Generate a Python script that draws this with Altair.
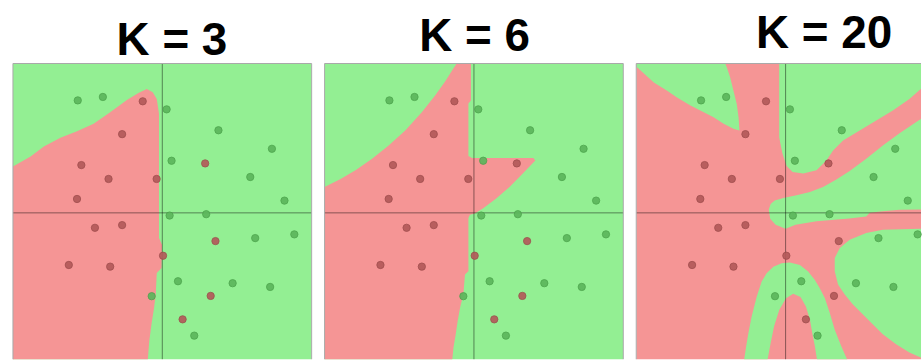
import altair as alt
import pandas as pd

# Training points in feature space (same sample in every panel)
GREEN_X = [-0.566, -0.398, 0.029, 0.376, 0.734, 0.062, 0.589, 0.818, 0.049,
           0.294, 0.622, 0.884, 0.105, 0.471, 0.722, -0.071, 0.214]
GREEN_Y = [0.753, 0.776, 0.693, 0.553, 0.429, 0.349, 0.240, 0.082, -0.018,
           -0.009, -0.169, -0.144, -0.458, -0.471, -0.496, -0.558, -0.822]
RED_X = [-0.131, -0.269, -0.542, -0.360, -0.038, 0.287, -0.571, -0.451,
         -0.269, 0.356, 0.005, -0.626, -0.349, 0.324, 0.136]
RED_Y = [0.747, 0.527, 0.320, 0.227, 0.227, 0.331, 0.093, -0.100,
         -0.082, -0.189, -0.287, -0.349, -0.360, -0.556, -0.713]

# Feature-space limits of each panel
XLIM = [-1.0, 1.0]
YLIM = [-1.0, 1.0]

# Decision-region outlines (x, y) for each model order K
K3_RED = [(-1.000, 0.311), (-0.882, 0.378), (-0.793, 0.445), (-0.682, 0.503),
          (-0.571, 0.547), (-0.460, 0.596), (-0.349, 0.673), (-0.237, 0.756),
          (-0.160, 0.803), (-0.104, 0.829), (-0.064, 0.807), (-0.037, 0.763),
          (-0.022, 0.663), (-0.022, -0.169), (-0.002, -0.213), (-0.005, -0.369),
          (-0.037, -0.402), (-0.044, -0.547), (-0.055, -0.635), (-0.071, -0.735),
          (-0.087, -0.857), (-0.097, -0.982), (-0.100, -1.000), (-1.000, -1.000)]

K6_RED = [(-1.000, 0.173), (-0.893, 0.227), (-0.793, 0.285), (-0.682, 0.363),
          (-0.571, 0.451), (-0.460, 0.551), (-0.349, 0.673), (-0.260, 0.785),
          (-0.193, 0.880), (-0.140, 0.963), (-0.115, 1.000), (-0.020, 1.000),
          (-0.020, 0.753), (-0.037, 0.733), (-0.037, 0.380), (-0.013, 0.367),
          (0.398, 0.367), (0.411, 0.351), (0.327, 0.263), (0.238, 0.173),
          (0.149, 0.096), (0.060, 0.029), (0.005, -0.004), (-0.027, -0.013),
          (-0.037, -0.035), (-0.037, -0.391), (-0.060, -0.413), (-0.071, -0.547),
          (-0.093, -0.635), (-0.109, -0.724), (-0.122, -0.813), (-0.137, -0.902),
          (-0.147, -1.000), (-1.000, -1.000)]

K20_GREEN_TOPLEFT = [(-1.000, 1.000), (-0.404, 1.000), (-0.393, 0.973), (-0.371, 0.907),
                     (-0.349, 0.818), (-0.327, 0.729), (-0.315, 0.640), (-0.309, 0.551),
                     (-0.349, 0.563), (-0.415, 0.596), (-0.482, 0.640), (-0.571, 0.685),
                     (-0.637, 0.718), (-0.727, 0.773), (-0.793, 0.818), (-0.882, 0.873),
                     (-0.993, 0.973), (-1.000, 0.973)]

K20_GREEN_TOPRIGHT = [(-0.043, 1.000), (-0.043, 0.507), (-0.022, 0.400), (0.007, 0.313),
                      (0.047, 0.273), (0.118, 0.263), (0.207, 0.285), (0.273, 0.351),
                      (0.318, 0.418), (0.385, 0.485), (0.496, 0.551), (0.607, 0.618),
                      (0.718, 0.685), (0.829, 0.763), (0.905, 0.829), (1.000, 0.893),
                      (1.000, 1.000)]

K20_GREEN_MIDDLE = [(-0.113, 0.020), (-0.100, 0.060), (-0.073, 0.083), (-0.015, 0.100),
                    (0.073, 0.118), (0.163, 0.140), (0.251, 0.173), (0.340, 0.223),
                    (0.429, 0.280), (0.540, 0.363), (0.651, 0.451), (0.763, 0.533),
                    (0.905, 0.629), (1.000, 0.693), (1.000, 0.027), (0.905, 0.023),
                    (0.763, 0.020), (0.651, 0.010), (0.563, 0.000), (0.540, -0.024),
                    (0.427, -0.037), (0.207, -0.057), (0.067, -0.080), (0.000, -0.107),
                    (-0.067, -0.080), (-0.103, -0.040)]

K20_GREEN_LOWRIGHT = [(1.000, -0.100), (0.905, -0.107), (0.651, -0.113), (0.540, -0.135),
                      (0.429, -0.180), (0.363, -0.235), (0.329, -0.302), (0.329, -0.391),
                      (0.351, -0.480), (0.396, -0.547), (0.451, -0.613), (0.518, -0.680),
                      (0.585, -0.747), (0.651, -0.813), (0.740, -0.880), (0.829, -0.935),
                      (0.905, -0.969), (1.000, -0.987)]

K20_GREEN_ARCH = [(-0.280, -1.000), (-0.264, -0.893), (-0.249, -0.804), (-0.227, -0.693),
                  (-0.193, -0.560), (-0.160, -0.460), (-0.127, -0.404), (-0.082, -0.360),
                  (-0.027, -0.337), (0.029, -0.333), (0.096, -0.349), (0.151, -0.393),
                  (0.196, -0.449), (0.229, -0.504), (0.263, -0.571), (0.296, -0.671),
                  (0.329, -0.782), (0.373, -0.893), (0.420, -1.000),
                  (0.213, -1.000), (0.196, -0.893), (0.180, -0.815), (0.163, -0.715),
                  (0.136, -0.627), (0.100, -0.564), (0.051, -0.542), (0.003, -0.571),
                  (-0.042, -0.649), (-0.077, -0.760), (-0.100, -0.871), (-0.124, -1.000)]

CLASSES = ["red", "green"]
REGION_COLORS = ["#f59595", "#93ef93"]
POINT_COLORS = ["#b35a5a", "#5cb65c"]
POINT_EDGES = ["#9a4848", "#48a048"]
FONT = "Liberation Sans"

PLOT_H = 297
Y_LOW = YLIM[1] - PLOT_H / 150.0

# (title, background class, regions, plot width, title x, title baseline)
PANELS = [
    ("K = 3", "green", [("red", K3_RED)], 300, 159.7, -8.7),
    ("K = 6", "green", [("red", K6_RED)], 300, 150.7, -12.7),
    ("K = 20", "red", [("green", K20_GREEN_TOPLEFT), ("green", K20_GREEN_TOPRIGHT),
                       ("green", K20_GREEN_MIDDLE), ("green", K20_GREEN_LOWRIGHT),
                       ("green", K20_GREEN_ARCH)], 286, 188.7, -16.0),
]

points_df = pd.DataFrame({
    "x": GREEN_X + RED_X,
    "y": GREEN_Y + RED_Y,
    "label": ["green"] * len(GREEN_X) + ["red"] * len(RED_X),
})


def make_panel(title, base_cls, regions, width, title_x, title_y):
    x_max = XLIM[0] + width / 150.0
    xs = alt.Scale(domain=[XLIM[0], x_max], nice=False, zero=False)
    ys = alt.Scale(domain=[Y_LOW, YLIM[1]], nice=False, zero=False)
    region_color = alt.Color("cls:N", scale=alt.Scale(domain=CLASSES, range=REGION_COLORS),
                             legend=None)

    background = alt.Chart(pd.DataFrame({
        "x0": [XLIM[0]], "x1": [XLIM[1]], "y0": [YLIM[0]], "y1": [YLIM[1]], "cls": [base_cls],
    })).mark_rect(clip=True).encode(
        x=alt.X("x0:Q", scale=xs, axis=None), x2="x1:Q",
        y=alt.Y("y0:Q", scale=ys, axis=None), y2="y1:Q",
        color=region_color,
    )

    rows = []
    for rid, (cls, verts) in enumerate(regions):
        for i, (vx, vy) in enumerate(verts):
            rows.append({"rid": rid, "i": i, "x": vx, "y": vy, "cls": cls})
    shapes = alt.Chart(pd.DataFrame(rows)).mark_line(
        filled=True, clip=True, strokeWidth=0
    ).encode(
        x=alt.X("x:Q", scale=xs, axis=None),
        y=alt.Y("y:Q", scale=ys, axis=None),
        color=region_color,
        detail="rid:N",
        order="i:Q",
    )

    axes_df = pd.DataFrame({"x": [0.0], "y": [0.0]})
    cross_v = alt.Chart(axes_df).mark_rule(color="black", opacity=0.45, strokeWidth=1).encode(
        x=alt.X("x:Q", scale=xs, axis=None))
    cross_h = alt.Chart(axes_df).mark_rule(color="black", opacity=0.45, strokeWidth=1).encode(
        y=alt.Y("y:Q", scale=ys, axis=None))

    edges = [("y", YLIM[1]), ("x", XLIM[0])]
    if XLIM[1] <= x_max + 1e-9:
        edges.append(("x", XLIM[1]))
    frame = []
    for ch, val in edges:
        df = pd.DataFrame({ch: [val]})
        enc = ({"x": alt.X("x:Q", scale=xs, axis=None)} if ch == "x"
               else {"y": alt.Y("y:Q", scale=ys, axis=None)})
        frame.append(alt.Chart(df).mark_rule(color="#a8a8a8", strokeWidth=1).encode(**enc))

    pts = alt.Chart(points_df).mark_circle(size=54, opacity=0.92, strokeWidth=0.8).encode(
        x=alt.X("x:Q", scale=xs, axis=None),
        y=alt.Y("y:Q", scale=ys, axis=None),
        fill=alt.Fill("label:N", scale=alt.Scale(domain=CLASSES, range=POINT_COLORS),
                      legend=None),
        stroke=alt.Stroke("label:N", scale=alt.Scale(domain=CLASSES, range=POINT_EDGES),
                          legend=None),
    )

    heading = alt.Chart(pd.DataFrame({"t": [title]})).mark_text(
        font=FONT, fontSize=46, fontWeight="bold",
        align="center", baseline="alphabetic", color="black",
    ).encode(text="t:N", x=alt.value(title_x), y=alt.value(title_y))

    # keeps the top of every panel's bounds at the same height
    top_anchor = alt.Chart(pd.DataFrame({"t": ["."]})).mark_text(
        fontSize=1, baseline="top", opacity=0).encode(
        text="t:N", x=alt.value(0), y=alt.value(-62.7))

    return alt.layer(background, shapes, cross_v, cross_h, *frame, pts, heading, top_anchor
                     ).properties(width=width, height=PLOT_H)


chart = alt.hconcat(*[make_panel(*p) for p in PANELS], spacing=11).properties(
    padding={"left": 12, "top": 0, "right": 0, "bottom": 0},
    background="white",
).configure_view(strokeWidth=0)

chart.save("out.html", embed_options={"renderer": "svg", "actions": False})
